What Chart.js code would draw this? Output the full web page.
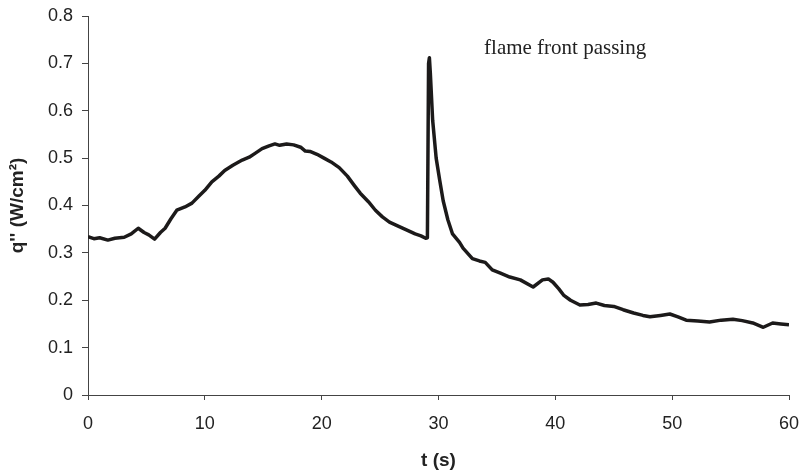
<!DOCTYPE html>
<html>
<head>
<meta charset="utf-8">
<script src="https://cdn.jsdelivr.net/npm/chart.js@4.4.1/dist/chart.umd.min.js"></script>
<style>
  html, body { margin: 0; padding: 0; background: #fff; }
  #wrap { width: 800px; height: 474px; position: relative; }
</style>
</head>
<body>
<div id="wrap"><canvas id="heatFlux"></canvas></div>
<script>
// time (s)
const tSec = [
  0, 0.5, 1.0, 1.7, 2.3, 3.1, 3.7, 4.3, 4.8, 5.2, 5.7, 6.2, 6.6, 7.1, 7.6, 8.3, 8.9, 9.5,
  10.0, 10.6, 11.2, 11.7, 12.4, 13.2, 13.8, 14.3, 14.9, 15.5, 16.0, 16.4, 17.0, 17.6, 18.2,
  18.6, 19.0, 19.6, 20.2, 20.8, 21.5, 22.2, 22.8, 23.3, 24.0, 24.6, 25.2, 25.8, 26.5, 27.3,
  28.0, 28.5, 28.9, 29.05, 29.15, 29.22, 29.3, 29.5, 29.8, 30.1, 30.4, 30.8, 31.2, 31.8,
  32.1, 32.9, 33.5, 34.0, 34.6, 35.3, 36.1, 37.0, 38.1, 38.9, 39.4, 39.8, 40.3, 40.7, 41.3,
  42.1, 42.8, 43.5, 44.2, 45.0, 45.8, 46.7, 47.5, 48.1, 49.0, 49.8, 50.5, 51.2, 52.2, 53.2,
  54.2, 55.2, 56.0, 56.9, 57.8, 58.6, 59.3, 60.0
];

// heat flux q'' (W/cm2)
const qFlux = [
  0.334, 0.330, 0.332, 0.327, 0.331, 0.333, 0.340, 0.352, 0.343, 0.338, 0.329, 0.343, 0.352,
  0.372, 0.390, 0.397, 0.405, 0.420, 0.432, 0.450, 0.462, 0.474, 0.485, 0.496, 0.502, 0.510,
  0.520, 0.526, 0.530, 0.527, 0.530, 0.528, 0.523, 0.515, 0.514, 0.508, 0.500, 0.492, 0.480,
  0.462, 0.442, 0.426, 0.408, 0.390, 0.376, 0.365, 0.357, 0.348, 0.340, 0.336, 0.331, 0.332,
  0.700, 0.712, 0.680, 0.580, 0.500, 0.454, 0.410, 0.370, 0.340, 0.322, 0.310, 0.288, 0.283,
  0.280, 0.264, 0.257, 0.249, 0.243, 0.228, 0.243, 0.245, 0.238, 0.224, 0.211, 0.200, 0.190,
  0.191, 0.194, 0.189, 0.187, 0.180, 0.173, 0.168, 0.165, 0.168, 0.171, 0.165, 0.158, 0.156,
  0.154, 0.158, 0.160, 0.157, 0.152, 0.143, 0.152, 0.150, 0.148
];

const xTitle = "t (s)";
const yTitle = "q'' (W/cm²)";
const annoText = "flame front passing";
const annoT = 33.9;
const annoQ = 0.72;

const points = tSec.map((t, i) => ({ x: t, y: qFlux[i] }));

// text label placed in data coordinates
const annotationPlugin = {
  id: "annoLabel",
  afterDatasetsDraw(chart) {
    const { ctx, scales } = chart;
    ctx.save();
    ctx.font = "21px 'Liberation Serif'";
    ctx.fillStyle = "#222";
    ctx.textAlign = "left";
    ctx.textBaseline = "alphabetic";
    ctx.fillText(annoText, scales.x.getPixelForValue(annoT), scales.y.getPixelForValue(annoQ));
    ctx.restore();
  },
};

const axisColor = "#444";
const tickFont = { family: "'Liberation Sans'", size: 18 };
const titleFont = { family: "'Liberation Sans'", size: 19, weight: "bold" };

// fixed box sizes, and no extra room for overhanging tick labels
const fixX = (scale) => {
  scale.height = 79;
  scale.paddingLeft = 0;
  scale.paddingRight = 0;
};
const fixY = (scale) => {
  scale.width = 88;
  scale.paddingTop = 0;
  scale.paddingBottom = 0;
};

new Chart(document.getElementById("heatFlux").getContext("2d"), {
  type: "line",
  data: {
    datasets: [
      {
        label: "q''",
        data: points,
        borderColor: "#1c1a1a",
        borderWidth: 3.5,
        borderJoinStyle: "round",
        pointRadius: 0,
        tension: 0,
        fill: false,
      },
    ],
  },
  options: {
    responsive: true,
    maintainAspectRatio: false,
    animation: false,
    layout: { padding: { top: 16, right: 11, left: 0, bottom: 0 } },
    plugins: {
      legend: { display: false },
      tooltip: { enabled: false },
    },
    scales: {
      x: {
        type: "linear",
        min: 0,
        max: 60,
        afterFit: fixX,
        ticks: { stepSize: 10, color: "#222", font: tickFont, padding: 13 },
        grid: { drawOnChartArea: false, drawTicks: true, tickLength: 5, color: axisColor },
        border: { color: axisColor, width: 1 },
        title: { display: true, text: xTitle, color: "#222", font: titleFont, padding: { top: 0, bottom: 2 } },
      },
      y: {
        min: 0,
        max: 0.8,
        afterFit: fixY,
        ticks: { stepSize: 0.1, color: "#222", font: tickFont, padding: 9 },
        grid: { drawOnChartArea: false, drawTicks: true, tickLength: 6, color: axisColor },
        border: { color: axisColor, width: 1 },
        title: { display: true, text: yTitle, color: "#222", font: titleFont, padding: { top: 6, bottom: 0 } },
      },
    },
  },
  plugins: [annotationPlugin],
});
</script>
</body>
</html>
